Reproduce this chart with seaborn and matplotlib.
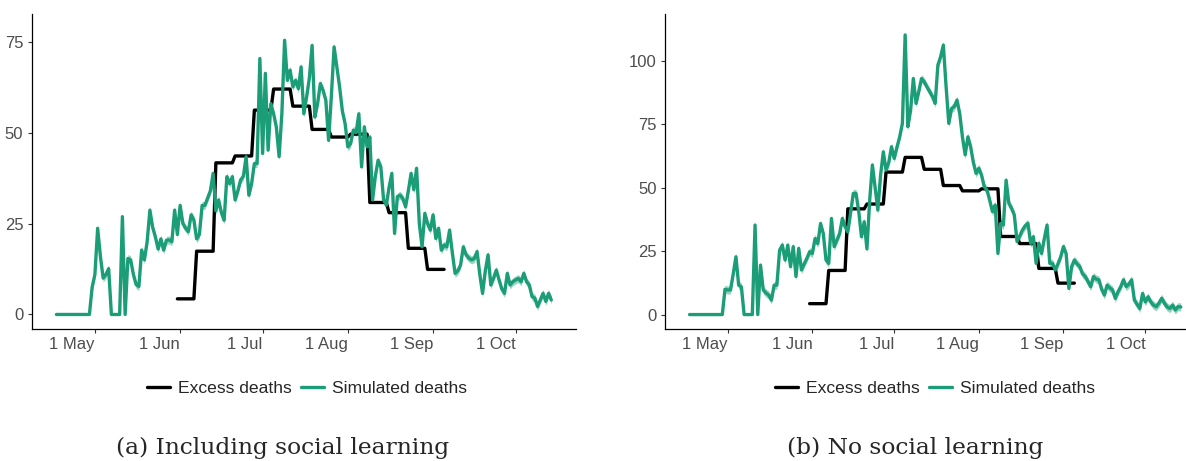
import numpy as np
import pandas as pd
import matplotlib
matplotlib.use("Agg")
import matplotlib.pyplot as plt
import matplotlib.dates as mdates
from matplotlib.lines import Line2D
import seaborn as sns

# daily simulated deaths, starting 17 Apr
sim_start = "2020-04-17"

sim_social = [
    0, 0, 0, 0, 0, 0, 0, 0, 0, 0, 0, 0, 0, 7.5, 11, 23.7, 16, 10, 11, 12.6,
    0, 0, 0, 0, 26.9, 0, 15.4, 15, 11, 8.2, 7.7, 17.7, 15, 20, 28.7, 24, 21.3, 18, 20.8, 17.7,
    20.4, 20.5, 20, 28.7, 22, 30, 25, 23.7, 22.8, 27.4, 26, 20.8, 22, 30, 30, 32, 34, 38.8, 28.5, 31.5,
    28, 25.9, 37.9, 36, 37.9, 31.5, 34, 37, 38, 43.4, 32.8, 36, 41.5, 41.5, 70.4, 44.3, 66.3, 45.2, 58, 55.2,
    51.5, 43.4, 55.2, 75.4, 64.4, 67.2, 62.6, 64.4, 62.1, 68.1, 55.2, 59.8, 65, 74, 54.3, 58, 63.5, 61.6, 58.9, 47.9,
    60, 73.6, 68, 62.6, 56, 52.5, 46.1, 47, 50.7, 50, 55.2, 40.6, 51.6, 46.1, 48.8, 31.5, 38, 42.4, 40.6, 31.5,
    30.1, 35, 38.8, 22.3, 32.4, 32.8, 31.9, 29.6, 34, 38.8, 34.3, 40.2, 25, 18.6, 27.8, 25, 23.2, 27.4, 20.9, 23.7,
    17.7, 19.1, 18.6, 23.2, 17, 11.3, 12, 13.6, 18.6, 16.4, 15.5, 15, 15.4, 17.3, 11, 5.8, 12, 16.4, 8.1, 10,
    12.2, 9.5, 7, 5.8, 11.3, 8.1, 9, 9.5, 9.9, 9, 11.3, 9, 8.1, 4.9, 4.5, 2.2, 4, 5.8, 3.6, 5.8,
    4,
]

sim_no_social = [
    0, 0, 0, 0, 0, 0, 0, 0, 0, 0, 0, 0, 0, 10, 9.7, 9.7, 16, 22.8, 11.6, 10.9,
    0, 0, 0, 0, 35.3, 0, 19.5, 9.7, 8.5, 7.7, 5.7, 11.6, 11.6, 25.4, 27.4, 21.5, 27.4, 18.9, 26.8, 15,
    26.1, 17.6, 20, 22.2, 24.8, 24.1, 30, 28, 35.9, 32, 21.5, 20.2, 37.9, 26.8, 29.4, 32, 37.9, 34.6, 32.6, 40,
    47.8, 47.8, 40.6, 30.7, 36.6, 25.9, 45, 59, 50, 41.2, 55, 64.2, 57, 60, 66.2, 61.6, 66, 70.1, 75.4, 110.3,
    74.1, 80.6, 93.1, 83.3, 88, 93.1, 91.8, 89.8, 87.9, 86, 83.3, 98.4, 101.7, 106.3, 90, 75.4, 81.3, 82, 84.6, 79.3,
    70, 63, 70.1, 66.2, 60, 55.7, 57.7, 55, 50.4, 49.1, 45, 40.6, 43.2, 24.1, 35.9, 35.3, 53, 43.9, 41.9, 39.3,
    28.8, 31, 33.4, 35, 36, 28.1, 30.7, 20.2, 28.1, 24.1, 30, 35.3, 20.2, 20.2, 17.6, 20, 22.8, 26.8, 24, 10.3,
    18.9, 21.5, 20, 18.9, 16, 15, 13, 11, 15, 14, 13.7, 10, 7.7, 11.6, 10.5, 9.7, 6.4, 9, 11, 13.7,
    11, 12, 13.7, 5.7, 4, 2.4, 8.3, 5, 7, 5, 3.7, 3.1, 4.5, 6.4, 4.5, 3, 2.4, 3.7, 1.8, 3.1,
    3,
]

# weekly excess deaths (daily average), weeks starting 31 May
excess_start = "2020-05-31"
excess_weekly = [4.3, 17.4, 41.7, 43.6, 56.2, 62.0, 57.3, 50.9, 48.8, 49.6, 30.8, 28.0, 18.2, 12.4]

ribbon_social = 1.1
ribbon_no_social = 1.6

y_ticks_social = [0, 25, 50, 75]
y_ticks_no_social = [0, 25, 50, 75, 100]

captions = ["(a) Including social learning", "(b) No social learning"]

GREEN = "#1b9e77"
GREY = "#4d4d4d"

sns.set_style("white")
plt.rcParams["font.family"] = ["Liberation Sans", "DejaVu Sans"]


def draw_panel(ax, sim, half, yticks, ylim):
    sim = np.array(sim, dtype=float)
    dates = pd.date_range(sim_start, periods=len(sim), freq="D")
    sim_df = pd.DataFrame({"date": dates, "deaths": sim})
    ex_df = pd.DataFrame({
        "date": pd.date_range(excess_start, periods=len(excess_weekly) * 7, freq="D"),
        "deaths": np.repeat(excess_weekly, 7),
    })

    # no uncertainty where the simulation is exactly zero
    band = np.where(sim > 0, half, 0)
    sns.lineplot(data=ex_df, x="date", y="deaths", ax=ax, color="black", lw=2.4)
    ax.fill_between(dates, sim - band, sim + band, color=GREEN, alpha=0.45, lw=0)
    sns.lineplot(data=sim_df, x="date", y="deaths", ax=ax, color=GREEN, lw=2.4)

    ax.set_xlim(pd.Timestamp("2020-04-08"), pd.Timestamp("2020-10-23"))
    ax.set_ylim(*ylim)
    ax.set_yticks(yticks)
    ax.xaxis.set_major_locator(mdates.MonthLocator(bymonthday=1))
    ax.xaxis.set_major_formatter(mdates.DateFormatter("%-d %b"))
    ax.set_xlabel("")
    ax.set_ylabel("")
    ax.tick_params(axis="both", which="both", length=3, width=0.8, color="#333333",
                   labelcolor=GREY, labelsize=12, pad=3, direction="out")
    ax.tick_params(left=True, bottom=True)
    for lab in ax.get_xticklabels():
        lab.set_horizontalalignment("right")
    for side in ["top", "right"]:
        ax.spines[side].set_visible(False)
    for side in ["left", "bottom"]:
        ax.spines[side].set_color("black")
        ax.spines[side].set_linewidth(0.9)


fig = plt.figure(figsize=(11.86, 4.61), dpi=100)
ax1 = fig.add_axes([0.0267, 0.2863, 0.459, 0.683])
ax2 = fig.add_axes([0.5607, 0.2863, 0.4556, 0.683])

draw_panel(ax1, sim_social, ribbon_social, y_ticks_social, (-4, 82.6))
draw_panel(ax2, sim_no_social, ribbon_no_social, y_ticks_no_social, (-5.7, 118.5))

handles = [Line2D([], [], color="black", lw=2.4), Line2D([], [], color=GREEN, lw=2.4)]
labels = ["Excess deaths", "Simulated deaths"]
for cx, ccap, cap in [(307, 283, captions[0]), (935, 915, captions[1])]:
    fig.legend(handles, labels, loc="center", bbox_to_anchor=(cx / 1186, 1 - 388 / 461),
               ncol=2, frameon=False, fontsize=12.6, handlelength=1.3,
               handletextpad=0.5, columnspacing=0.5)
    fig.text(ccap / 1186, 1 - 448 / 461, cap, ha="center", va="center",
             fontsize=16.8, family=["DejaVu Serif", "Liberation Serif"])

fig.savefig("out.png", dpi=100)
